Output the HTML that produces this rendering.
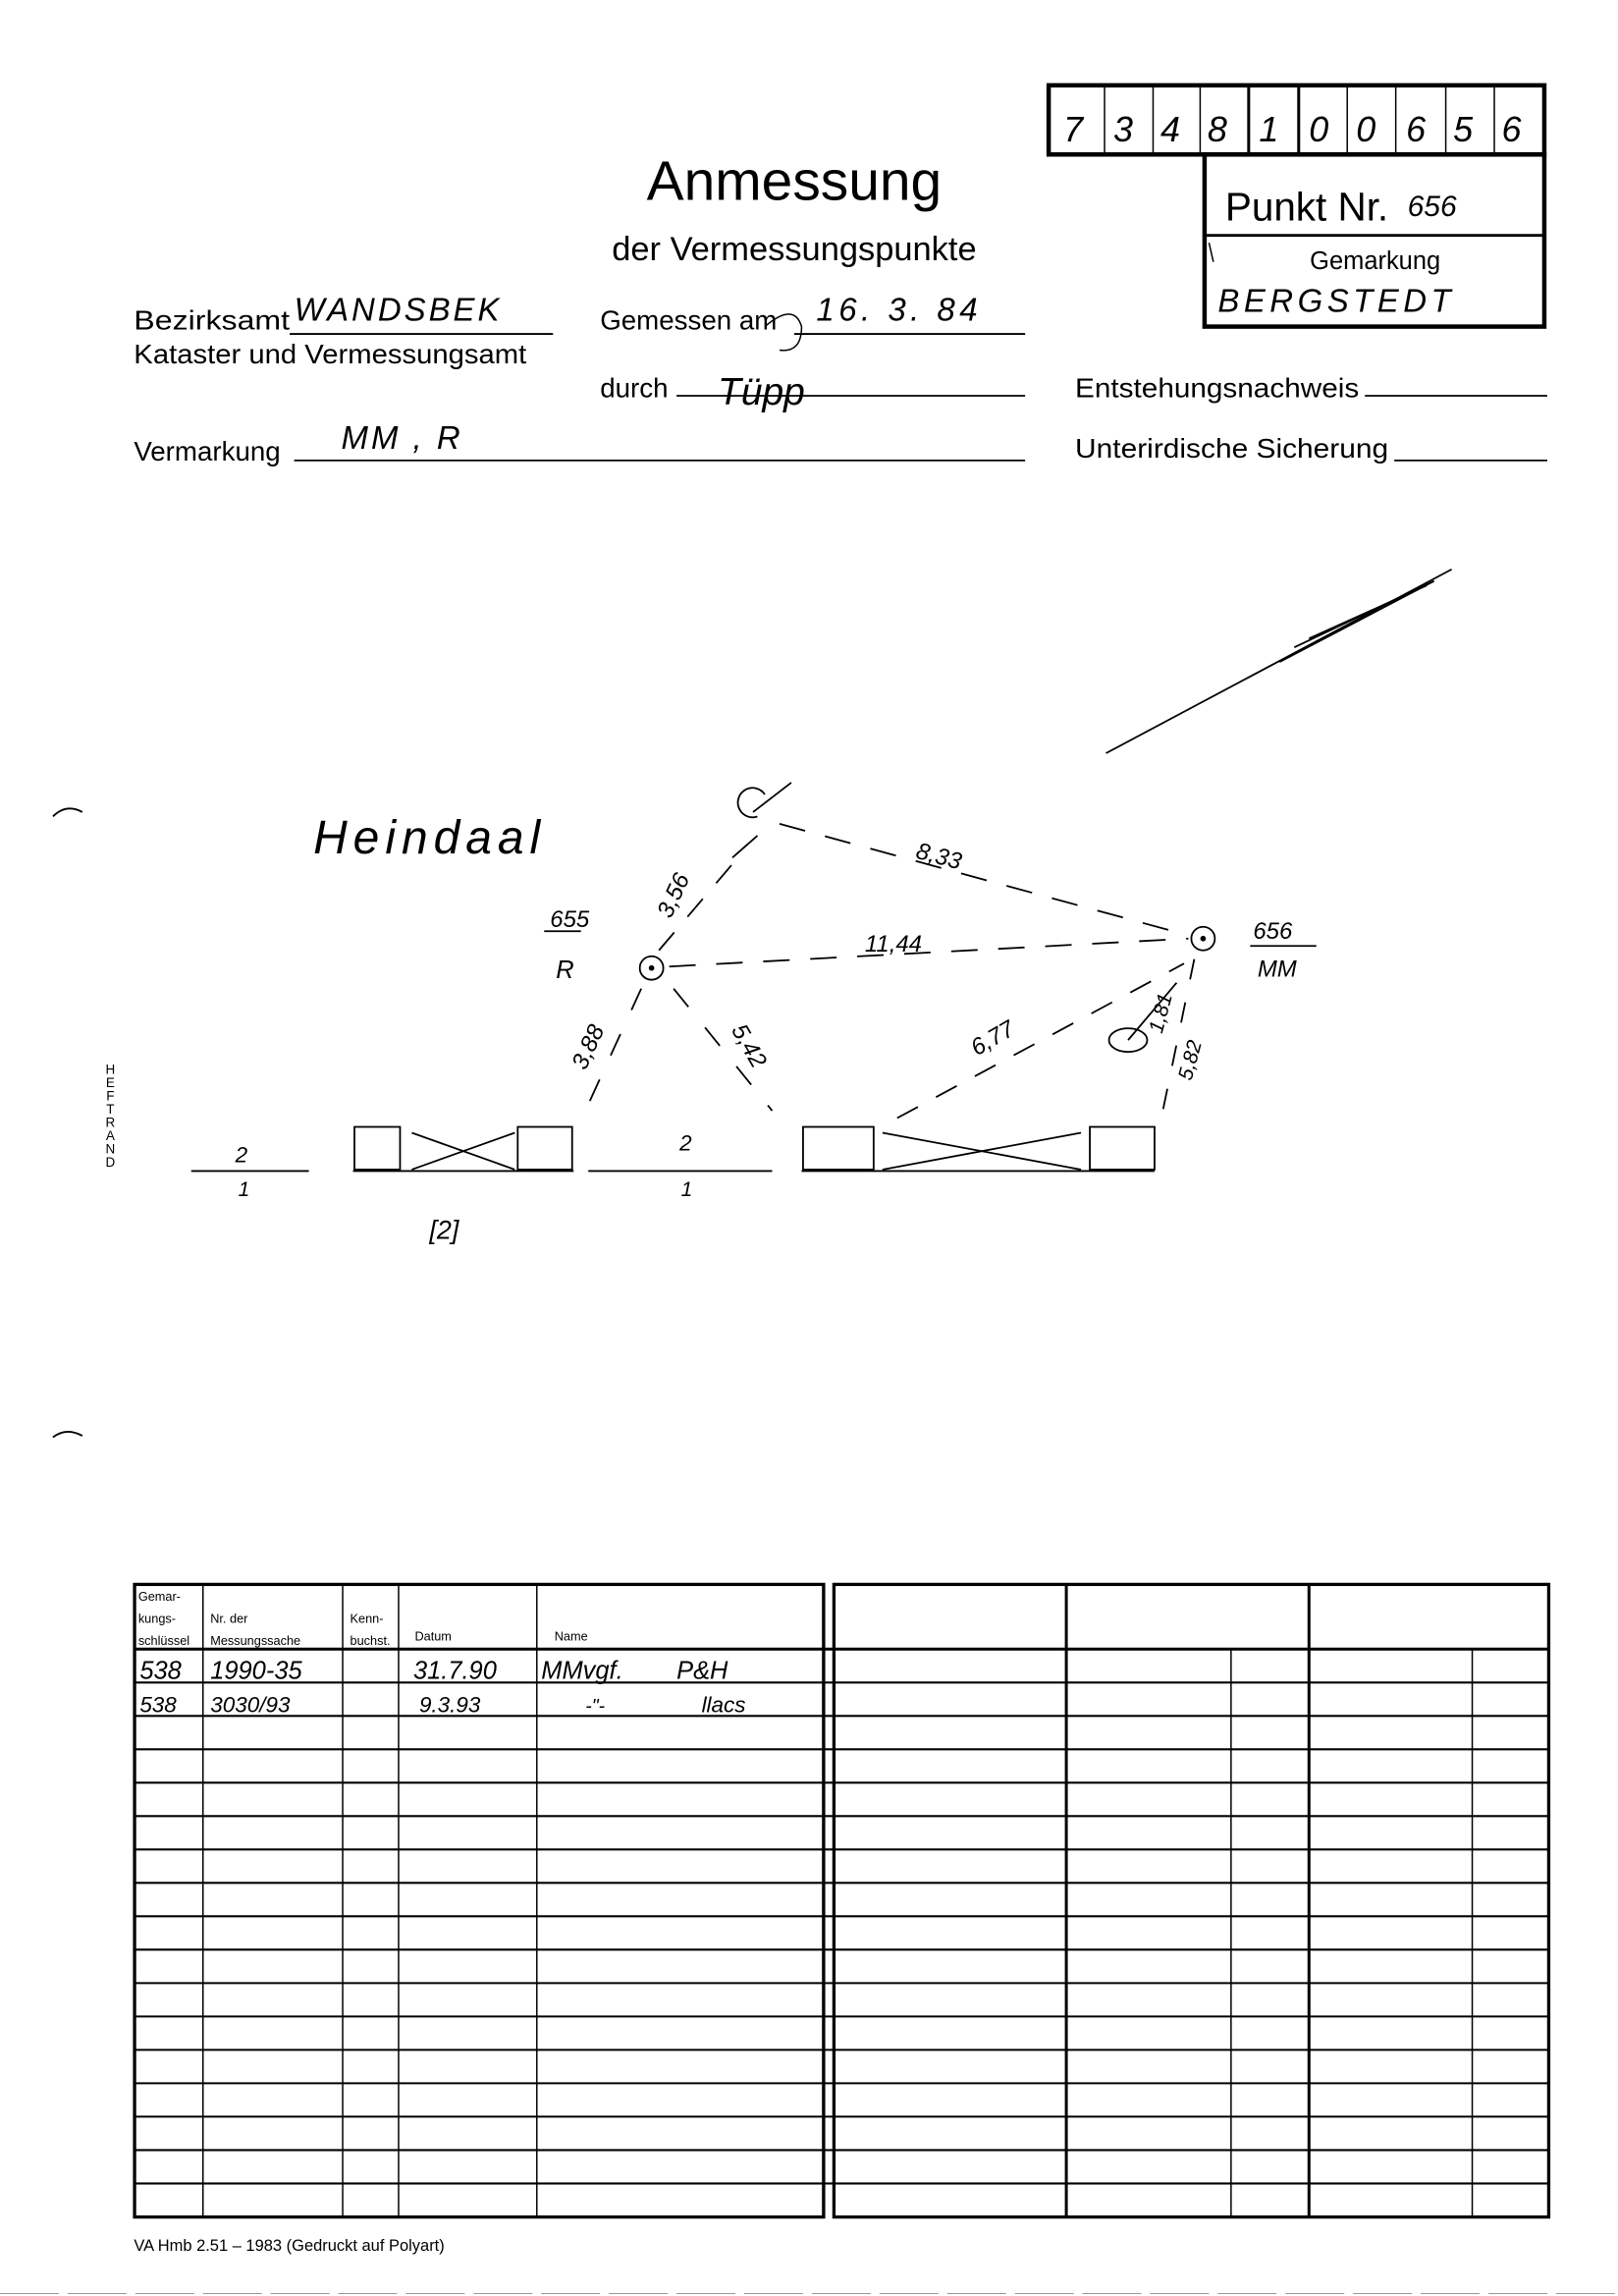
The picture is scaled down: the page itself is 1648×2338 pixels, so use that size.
<!DOCTYPE html>
<html><head><meta charset="utf-8"><style>
html,body{margin:0;padding:0;background:#fff;}
svg{display:block;}
.p{font-family:"Liberation Sans",sans-serif;fill:#000;}
.n{font-family:"Liberation Sans Narrow","Liberation Sans",sans-serif;fill:#000;}
.h{font-family:"Liberation Sans",sans-serif;font-style:italic;fill:#000;font-weight:normal;}
</style></head><body>
<svg width="1648" height="2338" viewBox="0 0 1100.1 1560.7" xmlns="http://www.w3.org/2000/svg">
<rect width="1100.1" height="1560.7" fill="#fff"/>
<g stroke="#000" fill="none">
<rect x="713" y="58" width="337" height="47" stroke-width="3"/>
<g stroke-width="1">
<line x1="751" y1="58" x2="751" y2="105"/><line x1="784" y1="58" x2="784" y2="105"/>
<line x1="816" y1="58" x2="816" y2="105"/><line x1="916" y1="58" x2="916" y2="105"/>
<line x1="949" y1="58" x2="949" y2="105"/><line x1="983" y1="58" x2="983" y2="105"/>
<line x1="1016" y1="58" x2="1016" y2="105"/></g>
<line x1="849" y1="58" x2="849" y2="105" stroke-width="2"/>
<line x1="883" y1="58" x2="883" y2="105" stroke-width="2"/>
<rect x="819" y="105" width="231" height="117" stroke-width="3"/>
<line x1="819" y1="160" x2="1050" y2="160" stroke-width="2"/>
<line x1="822" y1="165" x2="825" y2="178" stroke-width="1"/>
</g>
<g class="h" font-size="24">
<text x="723" y="96">7</text><text x="757" y="96">3</text><text x="789" y="96">4</text><text x="821" y="96">8</text><text x="856" y="96">1</text><text x="890" y="96">0</text><text x="922" y="96">0</text><text x="956" y="96">6</text><text x="988" y="96">5</text><text x="1021" y="96">6</text>
</g>
<text class="n" x="833" y="150" font-size="27">Punkt Nr.</text>
<text class="h" x="957" y="147" font-size="20">656</text>
<text class="n" x="935" y="183" font-size="17" text-anchor="middle">Gemarkung</text>
<text class="h" x="828" y="212" font-size="22" letter-spacing="3">BERGSTEDT</text>
<text class="n" x="540" y="136" font-size="38" text-anchor="middle">Anmessung</text>
<text class="n" x="540" y="177" font-size="23" text-anchor="middle">der Vermessungspunkte</text>
<g class="n" font-size="18.5">
<text x="91" y="224" textLength="106" lengthAdjust="spacingAndGlyphs">Bezirksamt</text>
<text x="91" y="247" textLength="267" lengthAdjust="spacingAndGlyphs">Kataster und Vermessungsamt</text>
<text x="408" y="224">Gemessen am</text>
<text x="408" y="270">durch</text>
<text x="91" y="313">Vermarkung</text>
<text x="731" y="270" textLength="193" lengthAdjust="spacingAndGlyphs">Entstehungsnachweis</text>
<text x="731" y="311" textLength="213" lengthAdjust="spacingAndGlyphs">Unterirdische Sicherung</text>
</g>
<g stroke="#000" stroke-width="1.2">
<line x1="197" y1="227" x2="376" y2="227"/>
<line x1="540" y1="227" x2="697" y2="227"/>
<line x1="460" y1="269" x2="697" y2="269"/>
<line x1="200" y1="313" x2="697" y2="313"/>
<line x1="928" y1="269" x2="1052" y2="269"/>
<line x1="948" y1="313" x2="1052" y2="313"/>
</g>
<g class="h" font-size="22">
<text x="200" y="218" letter-spacing="2">WANDSBEK</text>
<text x="555" y="218" letter-spacing="3">16. 3. 84</text>
<text x="232" y="305" letter-spacing="2">MM , R</text>
<text x="488" y="275" font-size="26">Tüpp</text>
</g>
<path d="M520 222 Q540 205 545 222 Q545 240 530 238" stroke="#000" fill="none"/>
<g stroke="#000" fill="none" stroke-width="1.2">
<line x1="752" y1="512" x2="987" y2="387"/>
<line x1="870" y1="450" x2="975" y2="395"/>
<line x1="880" y1="440" x2="975" y2="395"/>
<line x1="890" y1="434" x2="970" y2="398"/>
<path d="M36 555 Q45 546 56 552" />
<path d="M36 977 Q45 970 56 976" />
<path d="M520 540 A10 10 0 1 0 515 555"/>
<line x1="512" y1="552" x2="538" y2="532"/>
<line x1="498" y1="583" x2="515" y2="568"/>
<line x1="530" y1="560" x2="805" y2="635" stroke-dasharray="18 14"/>
<circle cx="443" cy="658" r="8"/><circle cx="443" cy="658" r="1.3" fill="#000"/>
<circle cx="818" cy="638" r="8"/><circle cx="818" cy="638" r="1.3" fill="#000"/>
<line x1="455" y1="657" x2="808" y2="638" stroke-dasharray="18 14"/>
<line x1="448" y1="646" x2="500" y2="585" stroke-dasharray="16 14"/>
<line x1="436" y1="672" x2="398" y2="755" stroke-dasharray="16 18"/>
<line x1="458" y1="672" x2="525" y2="755" stroke-dasharray="16 18"/>
<line x1="610" y1="760" x2="805" y2="655" stroke-dasharray="16 14"/>
<line x1="812" y1="652" x2="790" y2="758" stroke-dasharray="14 16"/>
<ellipse cx="767" cy="707" rx="13" ry="8"/>
<line x1="767" y1="707" x2="800" y2="668"/>
<line x1="370" y1="633" x2="395" y2="633"/>
<line x1="850" y1="643" x2="895" y2="643"/>
<line x1="130" y1="796" x2="210" y2="796"/>
<rect x="241" y="766" width="31" height="29"/>
<line x1="240" y1="796" x2="390" y2="796"/>
<rect x="352" y="766" width="37" height="29"/>
<line x1="280" y1="770" x2="350" y2="795"/><line x1="280" y1="795" x2="350" y2="770"/>
<line x1="400" y1="796" x2="525" y2="796"/>
<rect x="546" y="766" width="48" height="29"/>
<line x1="545" y1="796" x2="785" y2="796"/>
<rect x="741" y="766" width="44" height="29"/>
<line x1="600" y1="770" x2="735" y2="795"/><line x1="600" y1="795" x2="735" y2="770"/>
</g>
<g class="h">
<text x="213" y="580" font-size="32" letter-spacing="4">Heindaal</text>
<text x="622" y="583" font-size="16" transform="rotate(15 622 583)">8,33</text>
<text x="588" y="647" font-size="16">11,44</text>
<text x="374" y="630" font-size="16">655</text>
<text x="378" y="665" font-size="17">R</text>
<text x="852" y="638" font-size="16">656</text>
<text x="855" y="664" font-size="16">MM</text>
<text x="456" y="625" font-size="16" transform="rotate(-65 456 625)">3,56</text>
<text x="398" y="728" font-size="16" transform="rotate(-65 398 728)">3,88</text>
<text x="497" y="700" font-size="16" transform="rotate(60 497 700)">5,42</text>
<text x="664" y="718" font-size="16" transform="rotate(-30 664 718)">6,77</text>
<text x="790" y="703" font-size="14" transform="rotate(-75 790 703)">1,81</text>
<text x="810" y="735" font-size="14" transform="rotate(-75 810 735)">5,82</text>
<text x="160" y="790" font-size="15">2</text><text x="162" y="813" font-size="14">1</text>
<text x="462" y="782" font-size="15">2</text><text x="463" y="813" font-size="14">1</text>
<text x="292" y="842" font-size="18">[2]</text>
</g>
<g class="p" font-size="9" text-anchor="middle">
<text x="75" y="730">H</text><text x="75" y="739">E</text><text x="75" y="748">F</text><text x="75" y="757">T</text><text x="75" y="766">R</text><text x="75" y="775">A</text><text x="75" y="784">N</text><text x="75" y="793">D</text>
</g>
<g stroke="#000" fill="none">
<rect x="91.5" y="1077" width="468.5" height="430" stroke-width="2.2"/>
<rect x="567" y="1077" width="486" height="430" stroke-width="2.2"/>
<g stroke-width="1.4">
<line x1="91" y1="1121" x2="1053" y2="1121" stroke-width="2"/>
<line x1="91" y1="1143.7" x2="1053" y2="1143.7"/>
<line x1="91" y1="1166.4" x2="1053" y2="1166.4"/>
<line x1="91" y1="1189.1" x2="1053" y2="1189.1"/>
<line x1="91" y1="1211.8" x2="1053" y2="1211.8"/>
<line x1="91" y1="1234.5" x2="1053" y2="1234.5"/>
<line x1="91" y1="1257.2" x2="1053" y2="1257.2"/>
<line x1="91" y1="1279.9" x2="1053" y2="1279.9"/>
<line x1="91" y1="1302.6" x2="1053" y2="1302.6"/>
<line x1="91" y1="1325.3" x2="1053" y2="1325.3"/>
<line x1="91" y1="1348" x2="1053" y2="1348"/>
<line x1="91" y1="1370.7" x2="1053" y2="1370.7"/>
<line x1="91" y1="1393.4" x2="1053" y2="1393.4"/>
<line x1="91" y1="1416.1" x2="1053" y2="1416.1"/>
<line x1="91" y1="1438.8" x2="1053" y2="1438.8"/>
<line x1="91" y1="1461.5" x2="1053" y2="1461.5"/>
<line x1="91" y1="1484.2" x2="1053" y2="1484.2"/>
</g>
<g stroke-width="1">
<line x1="138" y1="1077" x2="138" y2="1507"/>
<line x1="233" y1="1077" x2="233" y2="1507"/>
<line x1="271" y1="1077" x2="271" y2="1507"/>
<line x1="365" y1="1077" x2="365" y2="1507"/>
<line x1="837" y1="1121" x2="837" y2="1507"/>
<line x1="1001" y1="1121" x2="1001" y2="1507"/>
</g>
<line x1="560" y1="1077" x2="560" y2="1507" stroke-width="2"/>
<line x1="725" y1="1077" x2="725" y2="1507" stroke-width="2"/>
<line x1="890" y1="1077" x2="890" y2="1507" stroke-width="2"/>
</g>
<g class="n" font-size="8.5">
<text x="94" y="1088">Gemar-</text><text x="94" y="1103">kungs-</text><text x="94" y="1118">schlüssel</text>
<text x="143" y="1103">Nr. der</text><text x="143" y="1118">Messungssache</text>
<text x="238" y="1103">Kenn-</text><text x="238" y="1118">buchst.</text>
<text x="282" y="1115">Datum</text>
<text x="377" y="1115">Name</text>
</g>
<g class="h" font-size="17">
<text x="95" y="1141">538</text><text x="143" y="1141">1990-35</text><text x="281" y="1141">31.7.90</text><text x="368" y="1141">MMvgf.</text><text x="460" y="1141">P&amp;H</text>
<text x="95" y="1164" font-size="15">538</text><text x="143" y="1164" font-size="15">3030/93</text><text x="285" y="1164" font-size="15">9.3.93</text><text x="398" y="1164" font-size="13">-"-</text><text x="477" y="1164" font-size="15">llacs</text>
</g>
<text class="n" x="91" y="1530" font-size="11">VA Hmb 2.51 – 1983 (Gedruckt auf Polyart)</text>
<line x1="0" y1="1559" x2="1100" y2="1559" stroke="#777" stroke-width="0.5" stroke-dasharray="40 6"/>
</svg>
</body></html>
